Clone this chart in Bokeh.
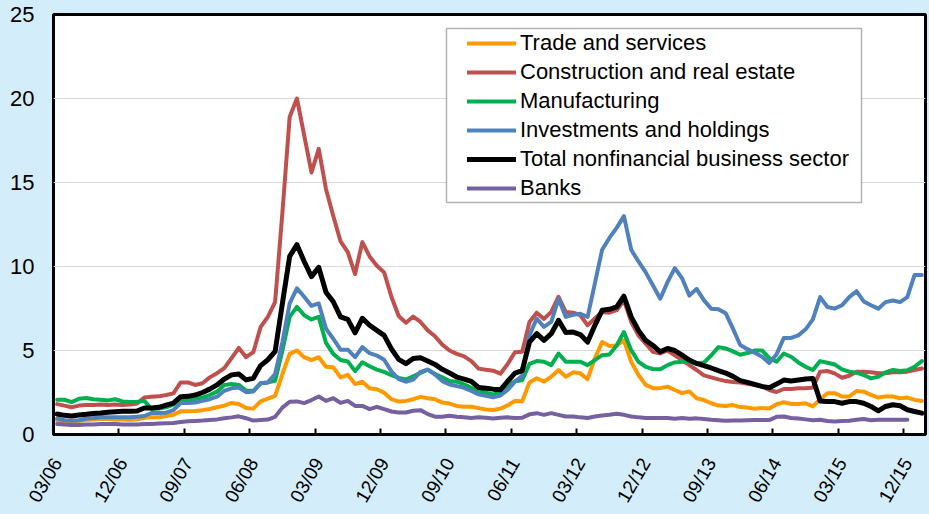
import math
from bokeh.plotting import figure
from bokeh.models import Range1d, FixedTicker, Legend, LegendItem, BoxAnnotation, ColumnDataSource
from bokeh.embed import file_html
from bokeh.resources import INLINE

NAN = float("nan")

# Monthly observations, 03/06 ... 02/16 (120 months)
tick_labels = ["03/06", "12/06", "09/07", "06/08", "03/09", "12/09", "09/10",
               "06/11", "03/12", "12/12", "09/13", "06/14", "03/15", "12/15"]
tick_step = 9
y_ticks = [0, 5, 10, 15, 20, 25]

trade = [0.83, 0.73, 0.73, 0.80, 0.88, 0.90, 0.92, 0.92, 0.90, 0.90,
         0.88, 0.90, 1.00, 1.02, 1.02, 1.10, 1.18, 1.38, 1.38, 1.40,
         1.45, 1.52, 1.62, 1.72, 1.88, 1.82, 1.58, 1.54, 1.97, 2.13,
         2.30, 3.60, 4.80, 5.00, 4.60, 4.43, 4.60, 4.03, 4.00, 3.40,
         3.55, 3.00, 3.14, 2.75, 2.69, 2.49, 2.10, 1.96, 2.00, 2.10,
         2.24, 2.16, 2.10, 1.90, 1.84, 1.70, 1.65, 1.65, 1.57, 1.49,
         1.46, 1.54, 1.73, 2.00, 1.98, 3.10, 3.35, 3.15, 3.44, 3.84,
         3.44, 3.70, 3.64, 3.30, 4.53, 5.50, 5.27, 5.30, 5.60, 4.33,
         3.54, 2.95, 2.76, 2.76, 2.85, 2.65, 2.46, 2.56, 2.16, 2.05,
         1.86, 1.72, 1.70, 1.75, 1.63, 1.60, 1.53, 1.58, 1.55, 1.80,
         1.92, 1.82, 1.82, 1.86, 1.67, 2.10, 2.46, 2.46, 2.26, 2.26,
         2.59, 2.55, 2.36, 2.20, 2.26, 2.26, 2.16, 2.20, 2.06, 2.00]

construction = [1.81, 1.72, 1.62, 1.72, 1.75, 1.75, 1.78, 1.75, 1.78, 1.75,
                1.78, 1.85, 2.20, 2.25, 2.27, 2.35, 2.45, 3.10, 3.10, 2.95,
                3.05, 3.40, 3.65, 3.95, 4.55, 5.15, 4.60, 4.90, 6.40, 7.00,
                7.90, 13.2, 18.9, 20.0, 17.8, 15.6, 17.0, 14.6, 13.0, 11.5,
                10.85, 9.55, 11.45, 10.6, 10.05, 9.65, 8.20, 7.05, 6.65, 7.02,
                6.70, 6.20, 5.85, 5.35, 5.00, 4.80, 4.65, 4.37, 3.92, 3.85,
                3.80, 3.62, 4.20, 4.90, 4.92, 6.70, 7.25, 6.88, 7.30, 8.20,
                7.29, 7.25, 7.10, 6.50, 6.90, 7.29, 7.25, 7.40, 7.98, 6.70,
                5.90, 5.40, 4.92, 4.82, 5.00, 4.72, 4.43, 4.13, 3.84, 3.52,
                3.40, 3.28, 3.18, 3.12, 3.10, 3.02, 2.95, 2.85, 2.65, 2.53,
                2.71, 2.71, 2.75, 2.75, 2.79, 3.74, 3.78, 3.64, 3.38, 3.50,
                3.74, 3.74, 3.70, 3.64, 3.64, 3.70, 3.70, 3.74, 3.84, 3.93]

manufacturing = [2.07, 2.07, 1.93, 2.13, 2.17, 2.10, 2.07, 2.03, 2.10, 1.97,
                 1.93, 1.93, 2.00, 1.52, 1.55, 1.62, 1.78, 2.05, 2.05, 2.10,
                 2.20, 2.35, 2.55, 2.95, 3.00, 2.95, 2.62, 2.60, 3.05, 3.10,
                 3.20, 5.00, 7.00, 7.60, 7.10, 6.85, 7.00, 5.45, 4.80, 4.43,
                 4.35, 3.77, 4.30, 4.06, 3.86, 3.73, 3.53, 3.37, 3.27, 3.47,
                 3.67, 3.86, 3.60, 3.41, 3.18, 3.14, 2.98, 2.78, 2.59, 2.49,
                 2.38, 2.55, 2.90, 3.17, 3.23, 4.20, 4.37, 4.33, 4.13, 4.82,
                 4.33, 4.33, 4.33, 4.13, 4.43, 4.72, 4.76, 5.30, 6.10, 5.02,
                 4.33, 4.03, 3.90, 3.88, 4.13, 4.29, 4.33, 4.33, 4.23, 4.28,
                 4.70, 5.20, 5.12, 4.95, 4.75, 4.85, 5.00, 5.00, 4.55, 4.33,
                 4.82, 4.63, 4.29, 4.03, 3.84, 4.37, 4.27, 4.17, 3.88, 3.74,
                 3.68, 3.54, 3.34, 3.44, 3.70, 3.84, 3.78, 3.82, 4.03, 4.37]

investments = [0.95, 0.85, 0.82, 0.85, 0.95, 0.98, 1.02, 1.03, 1.03, 1.03,
               1.03, 1.05, 1.10, 1.28, 1.28, 1.30, 1.45, 1.87, 1.87, 1.90,
               2.00, 2.10, 2.25, 2.60, 2.75, 2.80, 2.52, 2.56, 3.05, 3.10,
               3.60, 5.50, 7.80, 8.70, 8.20, 7.65, 7.80, 6.30, 5.70, 5.05,
               5.05, 4.60, 5.20, 4.84, 4.70, 4.45, 3.76, 3.30, 3.14, 3.27,
               3.73, 3.86, 3.57, 3.18, 2.98, 2.88, 2.78, 2.59, 2.39, 2.30,
               2.22, 2.32, 2.65, 3.15, 3.50, 5.90, 6.90, 6.40, 6.70, 8.08,
               7.00, 7.13, 7.19, 7.00, 9.00, 11.0, 11.7, 12.3, 13.0, 11.0,
               10.3, 9.65, 8.87, 8.08, 9.07, 9.90, 9.30, 8.27, 8.67, 8.00,
               7.49, 7.46, 7.22, 6.30, 5.33, 5.08, 4.87, 4.63, 4.26, 4.77,
               5.75, 5.75, 5.90, 6.26, 6.85, 8.18, 7.59, 7.49, 7.69, 8.18,
               8.53, 7.92, 7.69, 7.49, 7.88, 7.98, 7.88, 8.18, 9.50, 9.50]

total = [1.22, 1.14, 1.10, 1.16, 1.20, 1.25, 1.28, 1.32, 1.36, 1.38,
         1.38, 1.40, 1.58, 1.58, 1.62, 1.75, 1.87, 2.25, 2.27, 2.35,
         2.50, 2.70, 2.95, 3.30, 3.55, 3.60, 3.25, 3.35, 4.10, 4.45,
         4.95, 7.80, 10.6, 11.3, 10.3, 9.40, 9.95, 8.47, 7.90, 7.00,
         6.85, 6.05, 6.92, 6.50, 6.20, 5.90, 5.10, 4.47, 4.22, 4.52,
         4.57, 4.38, 4.17, 3.88, 3.66, 3.42, 3.30, 3.16, 2.80, 2.75,
         2.70, 2.66, 3.17, 3.65, 3.80, 5.50, 6.00, 5.60, 6.00, 6.80,
         6.07, 6.10, 5.95, 5.50, 6.50, 7.39, 7.45, 7.59, 8.23, 7.00,
         6.20, 5.60, 5.30, 4.92, 5.12, 5.00, 4.72, 4.43, 4.23, 4.10,
         3.96, 3.80, 3.66, 3.46, 3.21, 3.10, 2.98, 2.86, 2.79, 3.00,
         3.24, 3.18, 3.24, 3.30, 3.34, 2.00, 1.96, 1.96, 1.86, 1.96,
         1.96, 1.86, 1.67, 1.41, 1.67, 1.77, 1.71, 1.47, 1.37, 1.27]

banks = [0.63, 0.59, 0.57, 0.57, 0.59, 0.60, 0.62, 0.63, 0.62, 0.60,
         0.60, 0.60, 0.62, 0.63, 0.65, 0.67, 0.69, 0.75, 0.79, 0.81,
         0.83, 0.87, 0.90, 0.97, 1.02, 1.08, 0.97, 0.83, 0.87, 0.89,
         1.05, 1.60, 1.95, 1.97, 1.87, 2.05, 2.26, 2.00, 2.16, 1.88,
         2.00, 1.70, 1.70, 1.51, 1.65, 1.51, 1.37, 1.31, 1.31, 1.41,
         1.45, 1.22, 1.06, 1.06, 1.12, 1.06, 1.02, 0.98, 1.02, 1.00,
         0.95, 1.00, 1.02, 0.98, 1.00, 1.20, 1.27, 1.17, 1.27, 1.17,
         1.07, 1.07, 1.02, 0.98, 1.07, 1.13, 1.17, 1.23, 1.17, 1.07,
         1.02, 0.98, 0.98, 0.98, 0.98, 0.94, 0.98, 0.94, 0.96, 0.92,
         0.88, 0.85, 0.82, 0.84, 0.84, 0.85, 0.86, 0.86, 0.86, 1.05,
         1.07, 0.98, 0.95, 0.90, 0.85, 0.88, 0.80, 0.78, 0.80, 0.82,
         0.88, 0.92, 0.85, 0.88, 0.88, 0.88, 0.88, 0.88, NAN, NAN]

series = [
    ("Trade and services", trade, "#FF9900", 4),
    ("Construction and real estate", construction, "#C0504D", 4),
    ("Manufacturing", manufacturing, "#00B050", 4),
    ("Investments and holdings", investments, "#4F81BD", 4),
    ("Total nonfinancial business sector", total, "#000000", 5),
    ("Banks", banks, "#7560A0", 4),
]

BG = "#D3EDFA"
FONT = "Liberation Sans"
n = len(trade)
months = list(range(n))

p = figure(width=929, height=514, output_backend="svg", toolbar_location=None,
           x_range=Range1d(-0.5, n - 0.5), y_range=Range1d(0, 25),
           min_border_left=53, min_border_right=4, min_border_top=14,
           min_border_bottom=78)
p.background_fill_color = "white"
p.border_fill_color = BG
p.outline_line_color = "black"
p.outline_line_width = 3

# x axis: labels at categories, tick marks between categories
major = [i * tick_step for i in range(len(tick_labels))]
minor = [m - 0.5 for m in major]
xa = p.xaxis[0]
xa.ticker = FixedTicker(ticks=major, minor_ticks=minor)
xa.major_label_overrides = {m: lab for m, lab in zip(major, tick_labels)}
xa.major_tick_line_color = None
xa.minor_tick_in = 6
xa.minor_tick_out = 0
xa.minor_tick_line_color = "black"
xa.minor_tick_line_width = 2
xa.axis_line_color = None
xa.major_label_orientation = math.pi / 3
xa.major_label_text_font = FONT
xa.major_label_text_font_size = "19px"
xa.major_label_text_color = "black"
xa.major_label_standoff = 19

ya = p.yaxis[0]
ya.ticker = FixedTicker(ticks=y_ticks)
ya.major_tick_out = 0
ya.major_tick_in = 0
ya.minor_tick_line_color = None
ya.axis_line_color = None
ya.major_label_text_font = FONT
ya.major_label_text_font_size = "22px"
ya.major_label_text_color = "black"
ya.major_label_standoff = 19

p.xgrid.visible = False
p.ygrid.ticker = FixedTicker(ticks=y_ticks[1:-1])
p.ygrid.grid_line_color = "#D9D9D9"
p.ygrid.grid_line_width = 1

items = []
for name, vals, color, lw in series:
    src = ColumnDataSource(dict(x=months, y=vals))
    r = p.line("x", "y", source=src, line_color=color, line_width=lw,
               line_join="round", line_cap="round")
    items.append(LegendItem(label=name, renderers=[r]))

box = BoxAnnotation(left=446, right=861, top=28, bottom=202,
                    left_units="canvas", right_units="canvas",
                    top_units="canvas", bottom_units="canvas",
                    fill_color="white", fill_alpha=1.0,
                    line_color="black", line_width=1.5)
p.add_layout(box)

legend = Legend(items=items, location=(414, 232), padding=2, spacing=1,
                margin=0, glyph_width=49, glyph_height=28, label_height=28,
                label_standoff=4, label_text_font=FONT,
                label_text_font_size="22px", label_text_color="black",
                border_line_color=None, background_fill_alpha=0)
p.add_layout(legend)

html = file_html(p, INLINE)
html = html.replace("</head>", "<style>html,body{background:%s;}</style></head>" % BG, 1)
open("out.html", "w").write(html)
